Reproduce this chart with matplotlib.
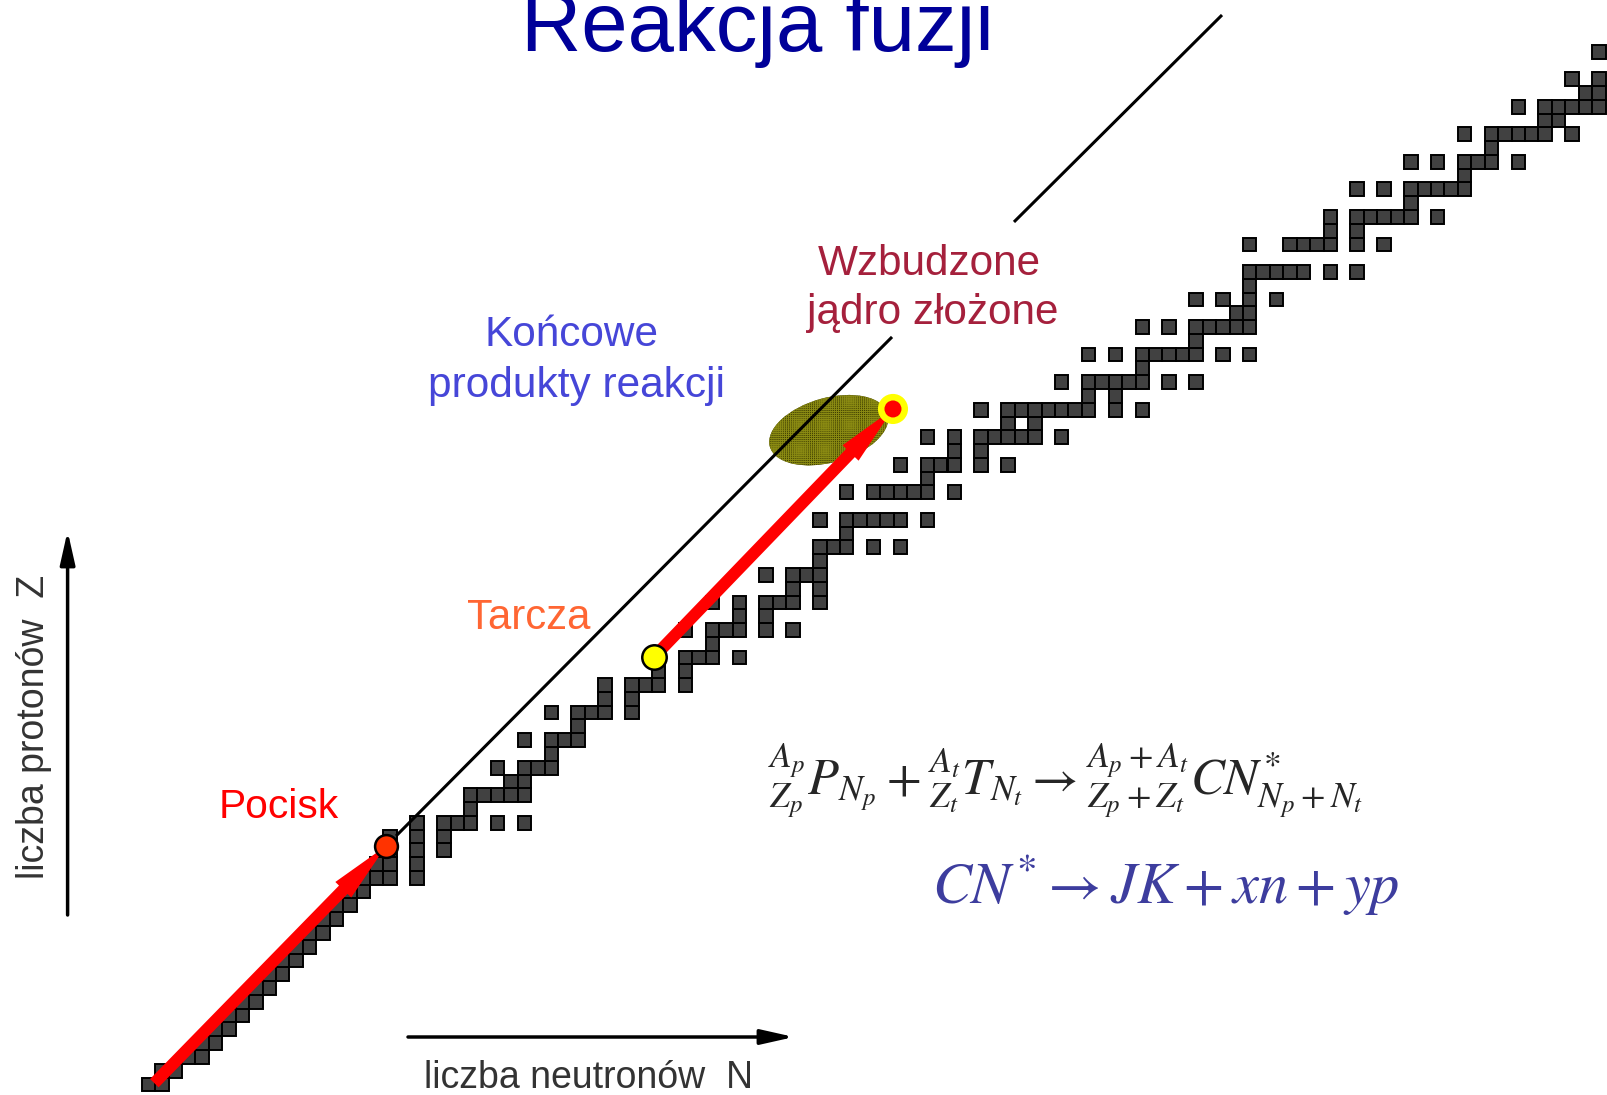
import matplotlib
matplotlib.use("Agg")
import matplotlib.pyplot as plt
from matplotlib.patches import Rectangle, Ellipse, FancyArrowPatch, ArrowStyle

plt.rcParams['font.family'] = ['Liberation Sans', 'DejaVu Sans']
plt.rcParams['mathtext.fontset'] = 'stix'
plt.rcParams['hatch.linewidth'] = 0.7

W, H = 1607, 1095

# chart of nuclides: proton number Z -> neutron numbers N of the drawn cells
proton_z = list(range(76))
neutron_n = [
    [0, 1], [1, 2], [3, 4], [4, 5], [5, 6], [6, 7], [7, 8], [8, 9], [9, 10], [10, 11],
    [11, 12], [12, 13], [13, 14], [14, 15], [15, 16], [16, 17, 18, 20], [17, 18, 20],
    [18, 20, 22], [18, 20, 22], [20, 22, 23, 24, 26, 28], [24], [24, 25, 26, 27, 28],
    [27, 28], [26, 28, 29, 30], [30], [28, 30, 31, 32], [32], [30, 32, 33, 34, 36],
    [34, 36], [34, 36, 37, 38, 40], [38, 40], [40, 41, 42, 44], [42],
    [40, 42, 43, 44, 46, 48], [44, 46], [42, 44, 46, 47, 48, 50], [48, 50],
    [46, 48, 49, 50], [50], [50, 51, 52, 54, 56], [52], [50, 52, 53, 54, 55, 56, 58], [],
    [52, 54, 55, 56, 57, 58, 60], [58], [56, 58, 59, 60, 62, 64], [60, 62],
    [58, 60, 62, 63, 64, 65, 66, 68], [64, 66], [62, 64, 65, 66, 67, 68, 69, 70, 72, 74],
    [70, 72], [68, 70, 71, 72, 73, 74, 76, 78], [74], [70, 72, 74, 75, 76, 77, 78, 80, 82],
    [78], [74, 76, 78, 79, 80, 81, 82], [81, 82], [78, 80, 82, 84], [82],
    [82, 83, 84, 85, 86, 88, 90], [], [82, 85, 86, 87, 88, 90, 92], [88, 90],
    [88, 90, 91, 92, 93, 94, 96], [94], [90, 92, 94, 95, 96, 97, 98], [98],
    [94, 96, 98, 99, 100, 102], [100], [98, 100, 101, 102, 103, 104, 106], [104, 105],
    [102, 104, 105, 106, 107, 108], [107, 108], [106, 108], [], [108],
]

# nuclei (N, Z)
beam_start = (0.94, 0.59)
projectile = (18.19, 17.81)
target = (38.15, 31.55)
compound = (55.94, 49.55)
products = (51.16, 48.01)

# N = Z like guide line, two pieces
line_n = [[18.94, 55.87], [64.95, 80.44]]
line_z = [[18.54, 54.78], [63.13, 78.16]]

fig = plt.figure(figsize=(W / 100, H / 100), dpi=100)
ax = fig.add_axes([0, 0, 1, 1])
ax.set_xlim((0 - 141.7) / 13.43, (W - 141.7) / 13.43)
ax.set_ylim((1091.27 - H) / 13.77, 1091.27 / 13.77)
ax.axis('off')

for z, ns in zip(proton_z, neutron_n):
    for n in ns:
        ax.add_patch(Rectangle((n, z), 1, 1, fc='#414141', ec='black', lw=1.4, zorder=2))

# evaporation products cloud
ax.add_patch(Ellipse(products, 9.1, 4.7, angle=15, fc='#3c3c00', ec='none', zorder=3))
ax.add_patch(Ellipse(products, 9.1, 4.7, angle=15, fc='none', ec='#8a8a12', lw=0,
                     hatch='++++++++', zorder=3))

for xs, ys in zip(line_n, line_z):
    ax.plot(xs, ys, color='black', lw=2.2, zorder=4, solid_capstyle='butt')

red_arrow = ArrowStyle('Simple', head_length=44, head_width=16, tail_width=8.6)
for a, b in [(beam_start, projectile), (target, compound)]:
    ax.add_patch(FancyArrowPatch(a, b, arrowstyle=red_arrow, mutation_scale=1,
                                 color='#ff0000', lw=0, shrinkA=0, shrinkB=0, zorder=5))

ax.scatter(*projectile, s=270, c='#ff3300', edgecolors='black', linewidths=1.8, zorder=6)
ax.scatter(*target, s=310, c='#ffff00', edgecolors='black', linewidths=1.8, zorder=6)
ax.scatter(*compound, s=470, c='#ffff00', edgecolors='none', zorder=6)
ax.scatter(*compound, s=150, c='#ff0000', edgecolors='none', zorder=7)


def ftext(x, y, s, **kw):
    fig.text(x / W, 1 - y / H, s, **kw)


ftext(757, 51, 'Reakcja fuzji', fontsize=60, color='#000099', ha='center', va='baseline')
ftext(279, 818, 'Pocisk', fontsize=29.3, color='#ff0000', ha='center', va='baseline')
ftext(529, 629, 'Tarcza', fontsize=30.2, color='#ff6633', ha='center', va='baseline')
ftext(572, 346, 'Końcowe', fontsize=30.5, color='#4646d8', ha='center', va='baseline')
ftext(577, 397, 'produkty reakcji', fontsize=30.5, color='#4646d8', ha='center', va='baseline')
ftext(929, 275, 'Wzbudzone', fontsize=30.4, color='#a5203c', ha='center', va='baseline')
ftext(933, 324, 'jądro złożone', fontsize=30.4, color='#a5203c', ha='center', va='baseline')

ftext(34, 727, 'liczba protonów  Z', fontsize=27, color='#333333', rotation=90,
      ha='center', va='center')
ftext(588, 1088, 'liczba neutronów  N', fontsize=27, color='#333333', ha='center',
      va='baseline')

axis_head = ArrowStyle('-|>', head_length=20, head_width=4.5)
for p0, p1 in [((67.6, 915), (67.6, 531)), ((408, 1037), (794, 1037))]:
    fig.add_artist(FancyArrowPatch((p0[0] / W, 1 - p0[1] / H), (p1[0] / W, 1 - p1[1] / H),
                                   transform=fig.transFigure, arrowstyle=axis_head,
                                   mutation_scale=1, color='black', lw=2.5,
                                   shrinkA=0, shrinkB=0))

ftext(768, 794, r'${}^{A_p}_{Z_p}P_{N_p}+{}^{A_t}_{Z_t}T_{N_t}\rightarrow'
      r'{}^{A_p+A_t}_{Z_p+Z_t}CN^{*}_{N_p+N_t}$',
      fontsize=36.5, color='#262626', ha='left', va='baseline')
ftext(932, 904, r'$CN^{*}\rightarrow JK+xn+yp$', fontsize=42, color='#3d3d9e',
      ha='left', va='baseline')

fig.savefig('out.png', dpi=100)
